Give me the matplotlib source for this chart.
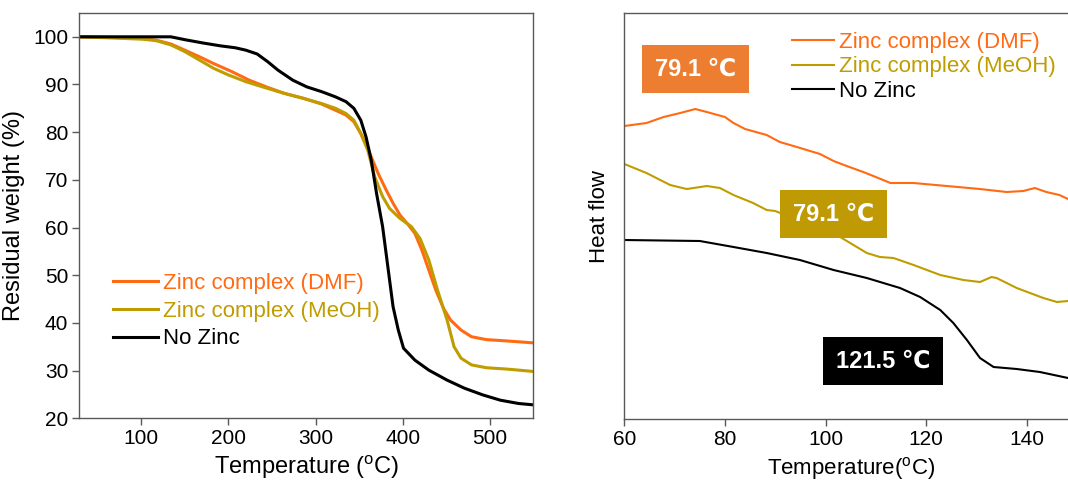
import numpy as np
import matplotlib
matplotlib.use('Agg')
import matplotlib.pyplot as plt

# Data
##############################################################################
# TGA (left panel)
tga_T_dmf = [27, 60, 101, 117, 134, 150, 167, 183, 204, 224, 245, 265, 286, 307, 323, 335,
             344, 352, 358, 364, 372, 381, 389, 397, 405, 414, 422, 430, 438, 447, 455,
             467, 479, 496, 521, 551]
tga_W_dmf = [100, 99.9, 99.7, 99.3, 98.5, 97.2, 95.8, 94.4, 92.7, 90.9, 89.4, 88.1, 87.1, 85.9,
             84.6, 83.6, 82.2, 79.7, 77.6, 74.8, 71.3, 67.9, 65.1, 62.6, 60.9, 58.8, 55.3,
             51.1, 46.9, 43.0, 40.6, 38.5, 37.1, 36.5, 36.2, 35.8]

tga_T_meoh = [27, 60, 101, 117, 134, 150, 167, 183, 200, 220, 241, 261, 286, 307, 323, 335,
              344, 352, 360, 368, 377, 385, 397, 410, 420, 430, 440, 451, 459, 467, 479,
              496, 521, 551]
tga_W_meoh = [100, 99.8, 99.5, 99.2, 98.3, 96.9, 95.1, 93.4, 92.0, 90.6, 89.4, 88.3, 87.1, 86.0,
              85.0, 83.9, 82.5, 79.7, 76.2, 70.6, 66.5, 64.0, 61.9, 60.2, 57.7, 53.2, 46.9,
              40.6, 35.0, 32.6, 31.2, 30.6, 30.3, 29.8]

tga_T_nozn = [27, 134, 150, 171, 191, 208, 220, 233, 245, 257, 274, 290, 307, 323, 335, 344,
              352, 358, 364, 370, 377, 383, 389, 395, 401, 414, 430, 451, 471, 492, 512,
              533, 551]
tga_W_nozn = [100, 100, 99.4, 98.7, 98.1, 97.7, 97.2, 96.4, 94.8, 93.0, 90.9, 89.5, 88.5, 87.4,
              86.4, 85.0, 82.5, 79.0, 74.1, 67.2, 60.2, 51.8, 43.4, 38.5, 34.7, 32.2, 30.1,
              28.0, 26.3, 24.9, 23.8, 23.1, 22.8]

# DSC (right panel), heat flow in arbitrary units
dsc_T_dmf = [60, 64.4, 67.8, 71.1, 74.1, 76.4, 80.0, 81.7, 84.0, 88.3, 90.9, 94.3, 98.9, 101.6,
             104.2, 107.5, 109.5, 112.9, 117.5, 124.1, 130.7, 136.0, 139.3, 141.6, 143.9,
             146.5, 148.2]
dsc_H_dmf = [293, 296, 302, 306, 310, 307, 302, 296, 290, 284, 277, 272, 265, 258, 253, 247,
             243, 236, 236, 233, 230, 227, 228, 231, 227, 224, 220]

dsc_T_meoh = [60, 64.4, 69.1, 72.4, 76.4, 79.0, 81.7, 85.6, 88.3, 90.0, 102.9, 108.2, 110.8,
              113.5, 117.5, 122.8, 127.4, 130.7, 133.0, 134.0, 138.0, 143.3, 146.0, 148.2]
dsc_H_meoh = [255, 246, 234, 230, 233, 231, 224, 216, 209, 208, 182, 166, 162, 161, 154, 144,
              139, 137, 142, 141, 131, 121, 117, 118]

dsc_T_nozn = [60, 75, 81.7, 88.3, 94.9, 101.6, 108.2, 114.8, 118.8, 122.8, 125.4, 128.1, 130.7,
              133.4, 138.0, 142.6, 148.2]
dsc_H_nozn = [179, 178, 172, 166, 159, 149, 141, 131, 122, 109, 96, 79, 61, 52, 50, 47, 41]

labels = ['Zinc complex (DMF)', 'Zinc complex (MeOH)', 'No Zinc']
# Tg annotations: (text, x, y)
tg_notes = [('79.1 \u2103', 74.2, 350), ('79.1 \u2103', 101.6, 205), ('121.5 \u2103', 111.4, 58)]

# Plot
##############################################################################
plt.rcParams['font.family'] = ['Liberation Sans', 'DejaVu Sans']
plt.rcParams['axes.linewidth'] = 1.0

c_dmf = '#FF6A13'
c_meoh = '#BF9D00'
c_nozn = '#000000'
box_colors = ['#ED7D31', '#BF9A05', '#000000']
spine_c = '#595959'

fig = plt.figure(figsize=(10.68, 4.82), dpi=100)
ax1 = fig.add_axes([0.0743, 0.1322, 0.4251, 0.8409])
ax2 = fig.add_axes([0.5846, 0.1307, 0.4239, 0.8423])

# left: TGA
ax1.plot(tga_T_dmf, tga_W_dmf, color=c_dmf, lw=2.2, label=labels[0])
ax1.plot(tga_T_meoh, tga_W_meoh, color=c_meoh, lw=2.2, label=labels[1])
ax1.plot(tga_T_nozn, tga_W_nozn, color=c_nozn, lw=2.2, label=labels[2])
ax1.set_xlim(29, 550)
ax1.set_ylim(20, 105)
ax1.set_xticks([100, 200, 300, 400, 500])
ax1.set_yticks(np.arange(20, 101, 10))
ax1.set_xlabel('Temperature ($\\mathregular{^{o}}$C)', fontsize=17, labelpad=4)
ax1.set_ylabel('Residual weight (%)', fontsize=17, labelpad=6)
leg1 = ax1.legend(loc='upper left', bbox_to_anchor=(0.055, 0.38), frameon=False, fontsize=16,
                  handlelength=2.0, handletextpad=0.25, labelspacing=0.3, borderaxespad=0)
for txt, ln in zip(leg1.get_texts(), leg1.get_lines()):
    txt.set_color(ln.get_color())

# right: DSC
ax2.plot(dsc_T_dmf, dsc_H_dmf, color=c_dmf, lw=1.5, label=labels[0])
ax2.plot(dsc_T_meoh, dsc_H_meoh, color=c_meoh, lw=1.5, label=labels[1])
ax2.plot(dsc_T_nozn, dsc_H_nozn, color=c_nozn, lw=1.5, label=labels[2])
ax2.set_xlim(60, 150)
ax2.set_ylim(0, 406)
ax2.set_xticks([60, 80, 100, 120, 140])
ax2.set_yticks([])
ax2.set_xlabel('Temperature($\\mathregular{^{o}}$C)', fontsize=16, labelpad=4)
ax2.set_ylabel('Heat flow', fontsize=16, labelpad=10)
leg2 = ax2.legend(loc='upper left', bbox_to_anchor=(0.35, 0.975), frameon=False, fontsize=16,
                  handlelength=1.9, handletextpad=0.25, labelspacing=0.15, borderaxespad=0)
for txt, ln in zip(leg2.get_texts(), leg2.get_lines()):
    txt.set_color(ln.get_color())

for (s, x, y), bc in zip(tg_notes, box_colors):
    ax2.text(x, y, s, color='white', fontsize=17, fontweight='bold', ha='center', va='center',
             zorder=5, bbox=dict(boxstyle='square,pad=0.55', fc=bc, ec='none'))

for ax in (ax1, ax2):
    for sp in ax.spines.values():
        sp.set_color(spine_c)
    ax.tick_params(direction='out', length=5, width=1, color=spine_c, labelsize=15, pad=3)

fig.savefig('out.png', dpi=100)
